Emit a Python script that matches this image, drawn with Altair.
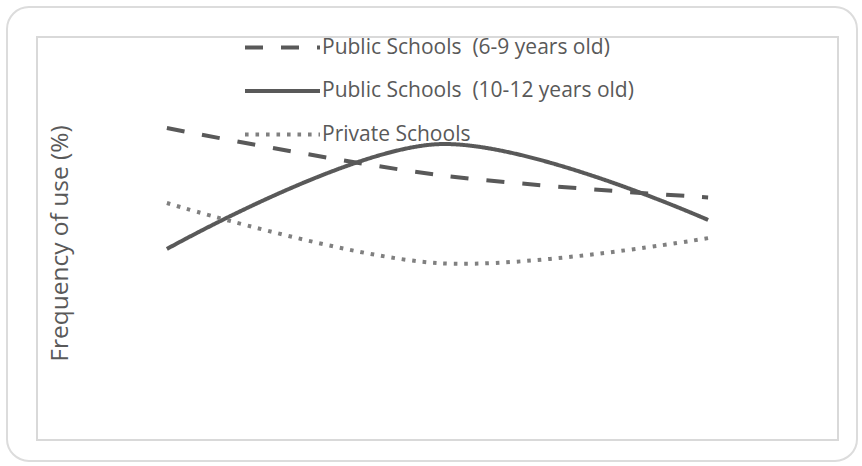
import altair as alt
import pandas as pd

# Age / school groups plotted over three stages
stages = ["Stage 1", "Stage 2", "Stage 3"]
series = [
    "Public Schools\u00a0 (6-9 years old)",
    "Public Schools\u00a0 (10-12 years old)",
    "Private Schools",
]
public_6_9 = [77.4, 65.8, 60.2]
public_10_12 = [47.4, 73.4, 54.6]
private = [58.8, 43.9, 50.1]

rows = []
for name, vals in zip(series, [public_6_9, public_10_12, private]):
    for s, v in zip(stages, vals):
        rows.append({"stage": s, "group": name, "freq": v})
df = pd.DataFrame(rows)

W, H = 801, 403
FONT = "Open Sans"
GREY = "#595959"

# a wide horizontal stroke as the legend swatch, kept short in height
legend = alt.Legend(
    title=None,
    orient="none",
    legendX=206,
    legendY=-4,
    symbolType="M-3,0H3",
    symbolSize=625,
    symbolOffset=25,
    symbolStrokeWidth=4,
    symbolFillColor="transparent",
    labelFontSize=21,
    labelFont=FONT,
    labelColor=GREY,
    labelOffset=25,
    rowPadding=18.5,
    labelLimit=400,
)

lines = alt.Chart(df).mark_line(
    interpolate="catmull-rom", strokeWidth=4, strokeCap="butt"
).encode(
    x=alt.X("stage:N", sort=stages,
            scale=alt.Scale(type="point", padding=0.48),
            axis=alt.Axis(title=None, labels=False, ticks=False,
                          domain=False, grid=False)),
    y=alt.Y("freq:Q", scale=alt.Scale(domain=[0, 100]),
            axis=alt.Axis(title="Frequency of use (%)", labels=False,
                          ticks=False, domain=False, grid=False,
                          titleFontSize=24.5, titleFont=FONT,
                          titleColor=GREY, titleFontWeight="normal",
                          titleX=23, titleBaseline="middle", titleY=206)),
    color=alt.Color("group:N", sort=series,
                    scale=alt.Scale(domain=series,
                                    range=[GREY, GREY, "#808080"]),
                    legend=legend),
    strokeDash=alt.StrokeDash("group:N", sort=series,
                              scale=alt.Scale(domain=series,
                                              range=[[18, 18], [1, 0], [3.6, 6.9]]),
                              legend=legend),
    detail="group:N",
)

frame = alt.Chart(pd.DataFrame({"k": [0]})).mark_rect(
    fill=None, stroke="#dcdcdc", strokeWidth=2, cornerRadius=22
).encode(
    x=alt.value(-30), x2=alt.value(W + 19),
    y=alt.value(-30), y2=alt.value(H + 21),
)

chart = alt.layer(frame, lines).properties(
    width=W, height=H,
    autosize=alt.AutoSizeParams(type="none"),
    padding={"left": 37, "top": 37, "right": 24, "bottom": 26},
).configure_view(
    stroke="#d9d9d9", strokeWidth=2
).configure_legend(
    symbolStrokeColor=GREY
)

chart.save("out.html", embed_options={"renderer": "svg", "actions": False})
